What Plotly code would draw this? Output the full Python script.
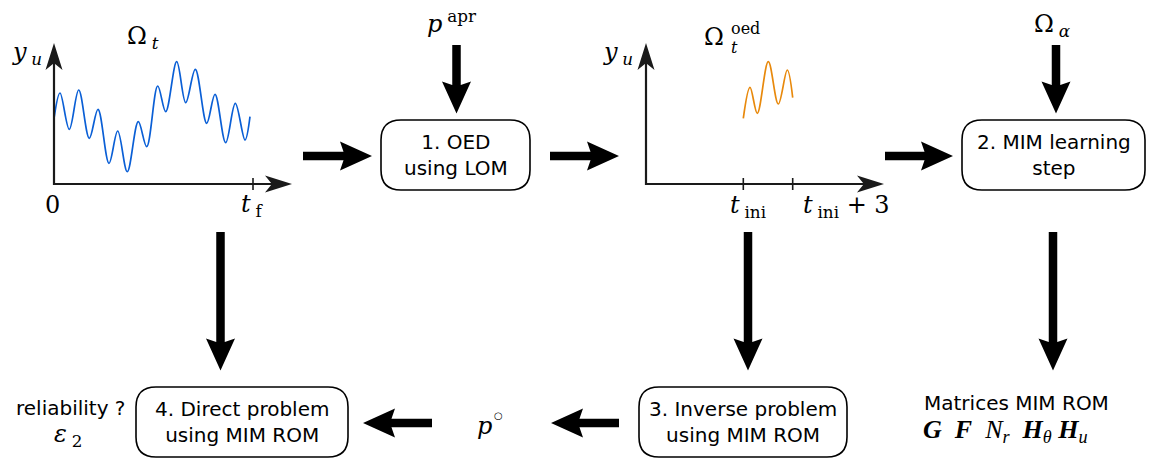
import math
import plotly.graph_objects as go

W, H = 1158, 459

# ---------------- data (pixel space of the diagram) ----------------
# signal Omega_t over [0, t_f]
omega_t_x = [54.3, 60, 69.3, 78.7, 89.3, 98, 109, 117.7, 127.3, 138.3, 146.7, 157.7,
             165.7, 176.7, 185.7, 195.3, 206.7, 215, 225.7, 235.3, 245, 250]
omega_t_y = [116.7, 93, 129.3, 90, 138.3, 109.3, 163.3, 131, 171.7, 121.7, 146.7, 86,
             111.7, 61.7, 102.7, 69.3, 123.3, 94.3, 142.7, 103.3, 140, 116.7]
# signal Omega_t^oed over [t_ini, t_ini+3]
oed_x = [743.3, 750, 757.3, 768.3, 778.3, 787.3, 792.7]
oed_y = [118.3, 87.3, 113.3, 61.7, 104, 70, 97.7]

box_labels = ["1. OED<br>using LOM",
              "2. MIM learning<br>step",
              "3. Inverse problem<br>using MIM ROM",
              "4. Direct problem<br>using MIM ROM"]
side_labels = ["reliability ?", "Matrices MIM ROM"]

# ---------------- layout geometry ----------------
boxes = [(381, 120, 530, 190), (962, 120, 1145, 190),
         (639, 387, 847, 457), (136, 387, 348, 457)]
thick_arrows = [  # (x_start, y_start, x_tip, y_tip)
    (303, 156, 372, 156), (550, 156, 619, 156), (885, 156, 953, 156),
    (456.5, 45, 456.5, 113.5), (1056, 45, 1056, 113.5),
    (220.5, 232, 220.5, 370.5), (748, 232, 748, 370.5), (1053, 232, 1053, 370.5),
    (432, 423, 363, 423), (619, 423, 551, 423),
]
axes_arrows = [
    (54, 185, 54, 43), (53, 184, 292, 184),
    (646, 185, 646, 43), (645, 184, 884, 184),
]
ticks = [(253, 184), (743.3, 184), (792.7, 184)]

AX_COL = "#1a1a1a"
TS = "\u2009"  # thin space before sub/superscripts


def arrow_path(x0, y0, x1, y1, w, L, hw, notch):
    dx, dy = x1 - x0, y1 - y0
    n = math.hypot(dx, dy)
    ux, uy = dx / n, dy / n
    px, py = -uy, ux
    bx, by = x1 - L * ux, y1 - L * uy          # head base centre
    mx, my = bx + notch * ux, by + notch * uy   # notch point
    c1 = (bx + hw * px, by + hw * py)
    c2 = (bx - hw * px, by - hw * py)
    t = 1 - (w / 2) / hw
    j1 = (c1[0] + t * (mx - c1[0]), c1[1] + t * (my - c1[1]))
    j2 = (c2[0] + t * (mx - c2[0]), c2[1] + t * (my - c2[1]))
    pts = [(x0 + w / 2 * px, y0 + w / 2 * py), j1, c1, (x1, y1), c2, j2,
           (x0 - w / 2 * px, y0 - w / 2 * py)]
    return "M " + " L ".join(f"{a:.2f},{b:.2f}" for a, b in pts) + " Z"


def rounded_rect(x0, y0, x1, y1, r):
    return (f"M {x0 + r},{y0} L {x1 - r},{y0} Q {x1},{y0} {x1},{y0 + r} "
            f"L {x1},{y1 - r} Q {x1},{y1} {x1 - r},{y1} L {x0 + r},{y1} "
            f"Q {x0},{y1} {x0},{y1 - r} L {x0},{y0 + r} Q {x0},{y0} {x0 + r},{y0} Z")


shapes = []
for (x0, y0, x1, y1) in boxes:
    shapes.append(dict(type="path", path=rounded_rect(x0, y0, x1, y1, 20),
                       line=dict(color="black", width=1.6), fillcolor="white",
                       xref="x", yref="y"))
for a in thick_arrows:
    shapes.append(dict(type="path", path=arrow_path(*a, w=8.5, L=32, hw=14.5, notch=5),
                       line=dict(width=0), fillcolor="black", xref="x", yref="y"))
for a in axes_arrows:
    shapes.append(dict(type="path", path=arrow_path(*a, w=2.2, L=27, hw=8.5, notch=7),
                       line=dict(width=0), fillcolor=AX_COL, xref="x", yref="y"))
for (tx, ty) in ticks:
    shapes.append(dict(type="line", x0=tx, x1=tx, y0=ty - 6, y1=ty + 6,
                       line=dict(color=AX_COL, width=1.6), xref="x", yref="y"))

fig = go.Figure()
fig.add_trace(go.Scatter(x=omega_t_x, y=omega_t_y, mode="lines",
                         line=dict(color="#0a5fd6", width=1.7, shape="spline", smoothing=1.0),
                         hoverinfo="skip", showlegend=False))
fig.add_trace(go.Scatter(x=oed_x, y=oed_y, mode="lines",
                         line=dict(color="#e8890c", width=1.7, shape="spline", smoothing=1.0),
                         hoverinfo="skip", showlegend=False))

SANS = "DejaVu Sans"
SERIF = "DejaVu Serif"
SERIF2 = "Liberation Serif"
annotations = []


def add_text(x, y, text, size, family, xanchor="center"):
    annotations.append(dict(x=x, y=y, xref="x", yref="y", text=text, showarrow=False,
                            xanchor=xanchor, yanchor="middle",
                            font=dict(family=family, size=size, color="black")))


centres = [((b[0] + b[2]) / 2, (b[1] + b[3]) / 2) for b in boxes]
for (cx, cy), lab in zip(centres, box_labels):
    add_text(cx, cy, lab, 20, SANS)

add_text(70, 408, side_labels[0], 20, SANS)
add_text(1016, 403, side_labels[1], 20, SANS)

# math labels
add_text(143, 37, "Ω" + TS + "<sub><i>t</i></sub>", 24, SERIF)
add_text(27, 53, "<i>y</i>" + TS + "<sub><i>u</i></sub>", 24, SERIF)
add_text(52, 205, "0", 24, SERIF)
add_text(252, 205, "<i>t</i>" + TS + "<sub>f</sub>", 24, SERIF)
add_text(618, 53, "<i>y</i>" + TS + "<sub><i>u</i></sub>", 24, SERIF)
add_text(714, 37, "Ω", 24, SERIF)
add_text(729, 28, "oed", 16, SERIF, xanchor="left")
add_text(729, 47, "<i>t</i>", 16, SERIF, xanchor="left")
add_text(748, 206, "<i>t</i>" + TS + "<sub>ini</sub>", 24, SERIF)
add_text(846, 206, "<i>t</i>" + TS + "<sub>ini</sub> + 3", 24, SERIF)
add_text(452, 22, "<i>p</i>" + TS + "<sup>apr</sup>", 24, SERIF)
add_text(1052, 25, "Ω" + TS + "<sub><i>α</i></sub>", 24, SERIF)
add_text(68, 435, "<i>ε</i>" + TS + "<sub>2</sub>", 24, SERIF)
add_text(484, 426, "<i>p</i>", 24, SERIF)
add_text(498, 415, "○", 10, SANS)
add_text(1005, 431,
         "<b><i>G</i></b>\u00a0\u00a0<b><i>F</i></b>\u00a0\u00a0<i>N</i><sub><i>r</i></sub>"
         "\u00a0\u00a0<b><i>H</i></b><sub><i>θ</i></sub>\u00a0<b><i>H</i></b><sub><i>u</i></sub>",
         26, SERIF2)

fig.update_layout(
    width=W, height=H, margin=dict(l=0, r=0, t=0, b=0, pad=0),
    paper_bgcolor="white", plot_bgcolor="white",
    xaxis=dict(range=[0, W], visible=False, fixedrange=True),
    yaxis=dict(range=[H, 0], visible=False, fixedrange=True),
    shapes=shapes, annotations=annotations, showlegend=False,
)

fig.write_html("out.html", config={"displayModeBar": False},
               post_script="document.body.style.margin='0';")
